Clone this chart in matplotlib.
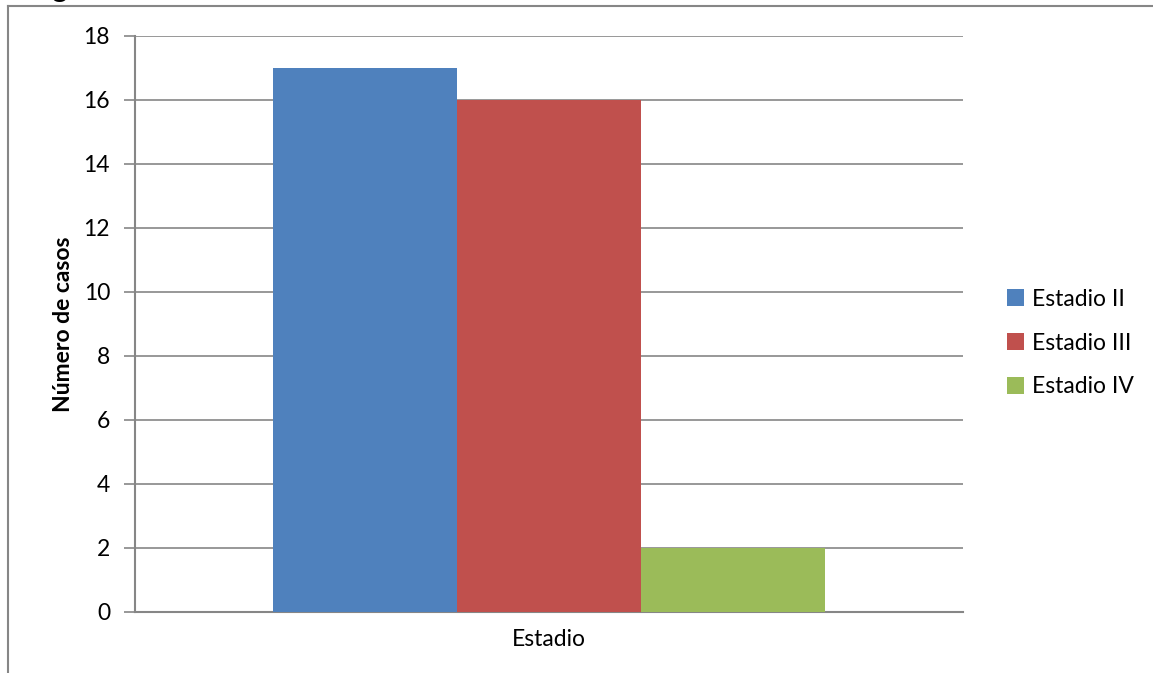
import numpy as np
import matplotlib.pyplot as plt
from matplotlib.lines import Line2D

plt.rcParams['font.family'] = ['Lato', 'DejaVu Sans']

categoria = 'Estadio'
series = ['Estadio II', 'Estadio III', 'Estadio IV']
valores = [17, 16, 2]
colores = ['#4F81BD', '#C0504D', '#9BBB59']

fig = plt.figure(figsize=(11.53, 6.73), dpi=100)
ax = fig.add_axes([135 / 1153, 1 - 612 / 673, 828 / 1153, 576 / 673])

ancho = 1 / 4.5
x0 = 0
for i in range(len(series)):
    pos = x0 + (i - 1) * ancho
    ax.bar(pos, valores[i], width=ancho, color=colores[i], label=series[i], zorder=3)

ax.set_xlim(-0.5, 0.5)
ax.set_ylim(0, 18)
ax.set_yticks(np.arange(0, 19, 2))
ax.set_xticks([0])
ax.set_xticklabels([categoria])
ax.tick_params(axis='x', length=0, pad=12, labelsize=16.5)
ax.tick_params(axis='y', length=8, width=1.2, color='#868686', pad=10, labelsize=16.5)
ax.yaxis.grid(True, color='#868686', linewidth=1.2, zorder=0)
for s in ['top', 'right']:
    ax.spines[s].set_visible(False)
for s in ['left', 'bottom']:
    ax.spines[s].set_color('#868686')
    ax.spines[s].set_linewidth(1.5)

ax.set_ylabel('Número de casos', fontsize=16.5, fontweight='bold', labelpad=7)

leg = fig.legend(loc='center left', bbox_to_anchor=(986 / 1153, 1 - 343 / 673),
                 frameon=False, fontsize=16.5, handlelength=0.75, handleheight=0.75,
                 handletextpad=0.35, labelspacing=1.0)

# marco exterior del grafico
fig.add_artist(Line2D([8 / 1153, 8 / 1153], [0, 1 - 6 / 673], color='#868686', linewidth=1.5))
fig.add_artist(Line2D([8 / 1153, 1], [1 - 6 / 673, 1 - 6 / 673], color='#868686', linewidth=1.5))
fig.text(52 / 1153, 1 + 3 / 673, 'g', fontsize=22, va='baseline')

fig.savefig('out.png', dpi=100)
